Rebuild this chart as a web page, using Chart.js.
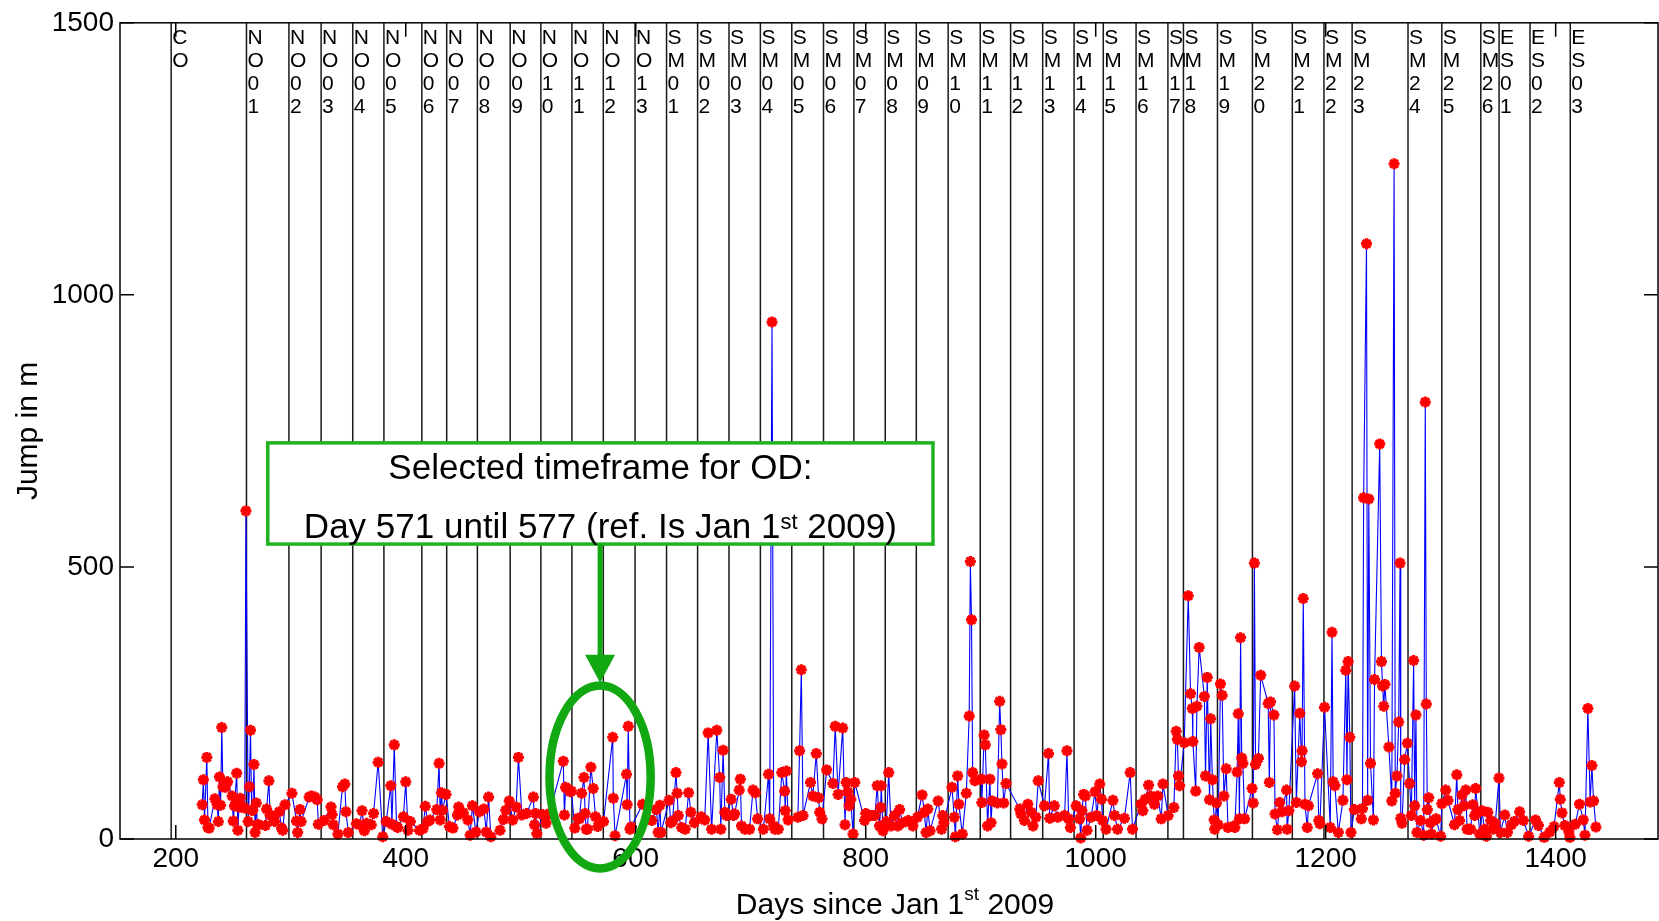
<!DOCTYPE html>
<html>
<head>
<meta charset="utf-8">
<script src="https://cdn.jsdelivr.net/npm/chart.js@4.4.1/dist/chart.umd.min.js"></script>
<style>
  body { margin: 0; background: #fff; }
  #wrap { width: 1659px; height: 921px; }
</style>
</head>
<body>
<div id="wrap"><canvas id="jumpChart" width="1659" height="921"></canvas></div>
<script>
// Orbit jump per day (m)
const days = [
  223, 224, 225, 227, 228, 229, 234, 236, 237, 238, 239, 240, 241, 243, 245, 249, 250, 251, 253, 254,
  255, 256, 257, 260, 261, 263, 264, 265, 266, 267, 268, 269, 270, 271, 272, 278, 279, 281, 282, 285,
  286, 290, 292, 293, 295, 301, 305, 306, 308, 309, 316, 318, 321, 323, 324, 329, 335, 336, 337, 341,
  345, 347, 348, 350, 357, 360, 362, 364, 366, 370, 372, 376, 380, 383, 387, 388, 390, 392, 393, 398,
  400, 402, 404, 412, 415, 417, 419, 421, 427, 429, 430, 431, 432, 435, 438, 441, 445, 446, 450, 454,
  456, 458, 461, 464, 468, 470, 472, 474, 482, 485, 487, 490, 493, 496, 498, 501, 505, 511, 512, 513,
  514, 519, 522, 525, 537, 538, 539, 540, 543, 544, 547, 550, 551, 553, 555, 556, 557, 558, 561, 563,
  565, 567, 572, 580, 580.5, 582, 592, 592.5, 593.5, 595, 596, 606, 614, 618, 619.5, 621, 622, 629, 630.5, 632,
  635, 636, 637, 640, 643, 646, 648, 651, 657, 660, 663, 666, 670.5, 673, 674, 676, 677.5, 679, 683, 685,
  686, 690, 691, 692, 695, 699, 702, 704, 706, 711, 715.5, 716.5, 718.5, 720, 721, 724, 727, 729.5, 730, 731,
  732.5, 741, 742.5, 744, 745.5, 752, 754, 757, 759, 760, 762, 766, 771.5, 773.5, 776, 780, 782, 783, 784.5, 785.5,
  787, 789, 790.5, 799, 800, 805, 808, 810, 812, 813, 813.5, 815, 818, 820, 822, 825, 828, 829.5, 832, 837,
  841, 845, 849, 851, 852.5, 854, 856, 863, 866, 867, 868, 875, 877, 878, 880, 881, 884, 887.5, 890, 891,
  892, 893, 895, 900.5, 901, 903, 904, 906, 908, 909, 910, 914.5, 916.5, 917.5, 918.5, 920, 922, 934, 935, 938,
  941, 944, 945.5, 948, 950, 955.5, 959, 960, 964, 967, 973, 975, 976.5, 978, 983, 986, 987, 988, 989.5, 991,
  992.5, 996, 999.5, 1001, 1003.5, 1005, 1006, 1009, 1015, 1016.5, 1019, 1025, 1030, 1032, 1039.5, 1041, 1043, 1046, 1048, 1051,
  1054, 1057, 1058.5, 1063, 1068, 1070, 1071, 1072, 1073, 1077, 1080.5, 1082.5, 1084, 1084.5, 1087, 1088, 1090, 1094.5, 1095.5, 1097,
  1099, 1100, 1101.5, 1103, 1103.5, 1105, 1106.5, 1108.5, 1110, 1111.5, 1113.5, 1115, 1120, 1121, 1123, 1124, 1125, 1126, 1127, 1128,
  1129.5, 1136, 1137, 1138, 1139, 1141.5, 1143.5, 1150, 1151, 1152, 1155, 1156, 1158, 1160, 1162, 1166, 1166.5, 1168, 1173, 1174.5,
  1177.5, 1179, 1179.5, 1180.5, 1182, 1184, 1185, 1193, 1194, 1195, 1199, 1204, 1205.5, 1206.5, 1208, 1211, 1215, 1217.5, 1218.5, 1219.5,
  1221, 1222, 1225, 1231, 1232, 1233, 1235.5, 1236.5, 1237.5, 1239, 1241.5, 1242.5, 1247, 1248.5, 1249.5, 1250.5, 1251.5, 1255, 1257.5, 1259.5,
  1260.5, 1262, 1263.5, 1264.7, 1265.3, 1266.4, 1268.7, 1271, 1273, 1274.5, 1276.5, 1277.4, 1278.5, 1279.4, 1282.6, 1285.2, 1286.6, 1287.5, 1288.4, 1289.6,
  1291, 1292, 1294, 1296, 1300, 1301, 1304.4, 1306.4, 1312, 1314, 1315, 1316.5, 1318.6, 1320.3, 1321.8, 1323, 1324.5, 1326, 1328, 1329.6,
  1330.4, 1332.5, 1334, 1336, 1338, 1339.7, 1341, 1343.5, 1345.5, 1347.5, 1350.7, 1352, 1355.7, 1358, 1361.5, 1364, 1368.7, 1372, 1376.5, 1382.5,
  1385, 1390, 1395, 1398.6, 1403.2, 1404, 1405.5, 1408, 1411.5, 1412.4, 1417, 1420.7, 1424, 1425.5, 1428, 1430, 1431.5, 1433, 1435
];
const jumps = [
  63, 109, 35, 150, 21, 20, 74, 63, 32, 114, 62, 205, 96, 95, 105, 79, 33, 61, 121, 16,
  59, 75, 59, 57, 603, 32, 96, 200, 53, 53, 137, 12, 66, 26, 26, 25, 55, 107, 44, 38,
  32, 50, 20, 16, 63, 84, 33, 12, 54, 32, 77, 79, 77, 72, 27, 34, 59, 45, 26, 9,
  96, 101, 50, 12, 28, 26, 52, 15, 29, 26, 47, 141, 4, 32, 98, 27, 173, 23, 21, 41,
  105, 16, 32, 16, 19, 60, 32, 35, 54, 139, 35, 85, 53, 82, 23, 20, 44, 59, 48, 35,
  7, 61, 13, 50, 55, 13, 77, 4, 16, 36, 53, 70, 35, 59, 150, 44, 47, 77, 26, 47,
  10, 45, 29, 47, 143, 44, 95, 93, 87, 88, 20, 38, 37, 84, 113, 47, 18, 18, 132, 93,
  41, 23, 32, 187, 75, 6, 119, 63, 207, 18, 22, 64, 34, 54, 12, 62, 12, 71, 30, 33,
  122, 84, 43, 21, 18, 85, 49, 30, 41, 35, 195, 18, 200, 113, 18, 163, 49, 43, 73, 43,
  46, 90, 110, 24, 18, 18, 90, 85, 37, 18, 119, 37, 950, 24, 18, 18, 122, 88, 52, 125,
  35, 40, 162, 311, 43, 104, 79, 157, 76, 49, 37, 127, 102, 207, 82, 204, 26, 104, 87, 61,
  73, 9, 104, 34, 47, 43, 43, 98, 24, 58, 98, 15, 32, 122, 24, 43, 24, 54, 30, 34,
  24, 40, 81, 49, 12, 55, 15, 70, 18, 43, 30, 95, 40, 4, 116, 64, 9, 84, 226, 510,
  403, 122, 107, 110, 67, 191, 173, 24, 110, 30, 70, 66, 253, 201, 138, 66, 102, 55, 46, 34,
  64, 49, 24, 40, 107, 61, 157, 38, 61, 40, 43, 162, 37, 21, 61, 37, 2, 52, 82, 79,
  16, 40, 87, 43, 101, 73, 34, 18, 71, 43, 18, 38, 122, 18, 64, 52, 73, 99, 79, 64,
  79, 37, 101, 43, 58, 198, 183, 116, 98, 177, 447, 267, 240, 179, 88, 244, 352, 262, 116, 297,
  72, 221, 109, 35, 18, 66, 26, 285, 264, 79, 129, 21, 24, 21, 123, 230, 37, 370, 149, 139,
  37, 93, 66, 507, 137, 148, 301, 249, 104, 252, 228, 46, 17, 67, 50, 90, 18, 52, 281, 67,
  231, 142, 162, 442, 64, 21, 61, 120, 34, 28, 242, 21, 380, 105, 98, 12, 71, 310, 109, 326,
  187, 12, 54, 37, 56, 627, 1094, 71, 625, 139, 35, 293, 726, 326, 281, 244, 284, 169, 70, 1241,
  84, 116, 215, 507, 38, 29, 146, 176, 102, 43, 328, 61, 228, 12, 34, 7, 803, 248, 54, 76,
  30, 9, 34, 37, 5, 65, 90, 71, 26, 118, 54, 34, 81, 61, 90, 18, 18, 18, 63, 43,
  93, 49, 9, 52, 18, 5, 49, 34, 18, 29, 112, 12, 44, 12, 26, 32, 50, 34, 5, 35,
  25, 3, 13, 23, 104, 73, 48, 25, 13, 3, 27, 64, 35, 7, 240, 68, 135, 70, 22
];

// Events (day of manoeuvre / campaign marker)
const eventDays = [
  196, 261.5, 298.4, 326.4, 353.9, 381, 414, 435.6, 462.3, 490.8, 517.5, 544.5, 571.8, 599.4,
  626.8, 653.8, 681.1, 708.4, 735.7, 763.3, 789.7, 817, 844, 871.7, 899.6, 926, 953.9, 981.2,
  1006.6, 1035.1, 1062.8, 1076.3, 1105.9, 1136.3, 1171, 1198.5, 1223, 1271.6, 1301, 1334.9,
  1350.8, 1377.7, 1412.7
];
const eventLabels = [
  "CO", "NO01", "NO02", "NO03", "NO04", "NO05", "NO06", "NO07", "NO08", "NO09", "NO10", "NO11", "NO12", "NO13",
  "SM01", "SM02", "SM03", "SM04", "SM05", "SM06", "SM07", "SM08", "SM09", "SM10", "SM11", "SM12", "SM13", "SM14",
  "SM15", "SM16", "SM17", "SM18", "SM19", "SM20", "SM21", "SM22", "SM23", "SM24", "SM25", "SM26",
  "ES01", "ES02", "ES03"
];

const xTickValues = [200, 400, 600, 800, 1000, 1200, 1400];
const yTickValues = [0, 500, 1000, 1500];

const FONT = '"Liberation Sans", Arial, sans-serif';
const GREEN = "#12a812";

// event lines + stacked labels, frame, inward ticks, annotation
const overlay = {
  id: "overlay",
  beforeDatasetsDraw(chart) {
    const { ctx, chartArea: a, scales: { x } } = chart;
    ctx.save();
    ctx.strokeStyle = "#1a1a1a";
    ctx.lineWidth = 1.5;
    eventDays.forEach((d) => {
      const px = x.getPixelForValue(d);
      ctx.beginPath();
      ctx.moveTo(px, a.top);
      ctx.lineTo(px, a.bottom);
      ctx.stroke();
    });
    ctx.fillStyle = "#000";
    ctx.font = "21px " + FONT;
    ctx.textAlign = "left";
    ctx.textBaseline = "middle";
    eventLabels.forEach((lab, i) => {
      const px = x.getPixelForValue(eventDays[i]) + 1;
      [...lab].forEach((ch, j) => ctx.fillText(ch, px, a.top + 15 + j * 23.3));
    });
    ctx.restore();
  },
  afterDraw(chart) {
    const { ctx, chartArea: a, scales: { x, y } } = chart;
    ctx.save();
    // frame
    ctx.strokeStyle = "#000";
    ctx.lineWidth = 1.5;
    ctx.strokeRect(a.left, a.top, a.right - a.left, a.bottom - a.top);
    // inward ticks
    const tl = 14;
    ctx.beginPath();
    xTickValues.forEach((v) => {
      const px = x.getPixelForValue(v);
      ctx.moveTo(px, a.bottom); ctx.lineTo(px, a.bottom - tl);
      ctx.moveTo(px, a.top); ctx.lineTo(px, a.top + tl);
    });
    yTickValues.forEach((v) => {
      const py = y.getPixelForValue(v);
      ctx.moveTo(a.left, py); ctx.lineTo(a.left + tl, py);
      ctx.moveTo(a.right, py); ctx.lineTo(a.right - tl, py);
    });
    ctx.stroke();

    // x axis title with superscript
    ctx.fillStyle = "#000";
    ctx.textBaseline = "alphabetic";
    ctx.textAlign = "left";
    drawSup(ctx, ["Days since Jan 1", "st", " 2009"], 30, 19, 14, (a.left + a.right) / 2 + 6, 914);

    // annotation: box, arrow, ellipse
    const cx = x.getPixelForValue(569);
    const bx0 = x.getPixelForValue(280), bx1 = x.getPixelForValue(858.5);
    const by0 = y.getPixelForValue(728), by1 = y.getPixelForValue(542);
    ctx.fillStyle = "#fff";
    ctx.fillRect(bx0, by0, bx1 - bx0, by1 - by0);
    ctx.strokeStyle = "#1fb41f";
    ctx.lineWidth = 3.5;
    ctx.strokeRect(bx0, by0, bx1 - bx0, by1 - by0);
    ctx.fillStyle = "#000";
    ctx.textAlign = "center";
    ctx.font = "35px " + FONT;
    ctx.fillText("Selected timeframe for OD:", (bx0 + bx1) / 2, by0 + 36);
    ctx.textAlign = "left";
    drawSup(ctx, ["Day 571 until 577 (ref. Is Jan 1", "st", " 2009)"], 35, 22, 9, (bx0 + bx1) / 2, by0 + 95);

    const tipY = y.getPixelForValue(287);
    ctx.strokeStyle = GREEN;
    ctx.fillStyle = GREEN;
    ctx.lineWidth = 5;
    ctx.beginPath();
    ctx.moveTo(cx, by1);
    ctx.lineTo(cx, tipY - 26);
    ctx.stroke();
    ctx.beginPath();
    ctx.moveTo(cx - 15, tipY - 28);
    ctx.lineTo(cx + 15, tipY - 28);
    ctx.lineTo(cx, tipY);
    ctx.closePath();
    ctx.fill();

    const ey = y.getPixelForValue(114);
    const rx = x.getPixelForValue(569 + 44) - cx;
    const ry = y.getPixelForValue(0) - y.getPixelForValue(168);
    ctx.lineWidth = 8.5;
    ctx.beginPath();
    ctx.ellipse(cx, ey, rx, ry, 0, 0, Math.PI * 2);
    ctx.stroke();
    ctx.restore();
  }
};

// text with a raised smaller middle part, centred on cx
function drawSup(ctx, parts, size, supSize, rise, cx, baseY) {
  const fBig = size + "px " + FONT, fSmall = supSize + "px " + FONT;
  ctx.font = fBig; const w0 = ctx.measureText(parts[0]).width;
  ctx.font = fSmall; const w1 = ctx.measureText(parts[1]).width;
  ctx.font = fBig; const w2 = ctx.measureText(parts[2]).width;
  let px = cx - (w0 + w1 + w2) / 2;
  ctx.font = fBig; ctx.fillText(parts[0], px, baseY); px += w0;
  ctx.font = fSmall; ctx.fillText(parts[1], px, baseY - rise); px += w1;
  ctx.font = fBig; ctx.fillText(parts[2], px, baseY);
}

const ctx = document.getElementById("jumpChart").getContext("2d");
const jumpChart = new Chart(ctx, {
  type: "line",
  data: {
    datasets: [
      {
        label: "Jump",
        data: days.map((d, i) => ({ x: d, y: jumps[i] })),
        borderColor: "#0000ff",
        borderWidth: 1.1,
        pointStyle: "star",
        pointRadius: 5.5,
        pointBorderWidth: 3.2,
        pointBorderColor: "#ff0000",
        pointBackgroundColor: "#ff0000",
        tension: 0,
        clip: 12,
      },
    ],
  },
  options: {
    responsive: false,
    devicePixelRatio: 1,
    animation: false,
    layout: { autoPadding: false, padding: { top: 19, right: 1, left: 0, bottom: 0 } },
    plugins: {
      legend: { display: false },
      tooltip: { enabled: false },
    },
    scales: {
      x: {
        type: "linear",
        min: 151.5,
        max: 1489,
        afterBuildTicks: (s) => { s.ticks = xTickValues.map((v) => ({ value: v })); },
        afterFit: (s) => { s.height = 82; s.paddingLeft = 0; s.paddingRight = 0; },
        grid: { display: false, drawTicks: false },
        border: { display: false },
        ticks: { color: "#000", padding: 3, maxRotation: 0, font: { size: 28, family: FONT }, callback: (v) => String(v) },
      },
      y: {
        min: 0,
        max: 1500,
        afterBuildTicks: (s) => { s.ticks = yTickValues.map((v) => ({ value: v })); },
        afterFit: (s) => { s.width = 120; },
        grid: { display: false, drawTicks: false },
        border: { display: false },
        ticks: { color: "#000", padding: 6, font: { size: 28, family: FONT }, callback: (v) => String(v) },
        title: {
          display: true,
          text: "Jump in m",
          color: "#000",
          padding: { top: 11, bottom: 0 },
          font: { size: 30, family: FONT },
        },
      },
    },
  },
  plugins: [overlay],
});
</script>
</body>
</html>
